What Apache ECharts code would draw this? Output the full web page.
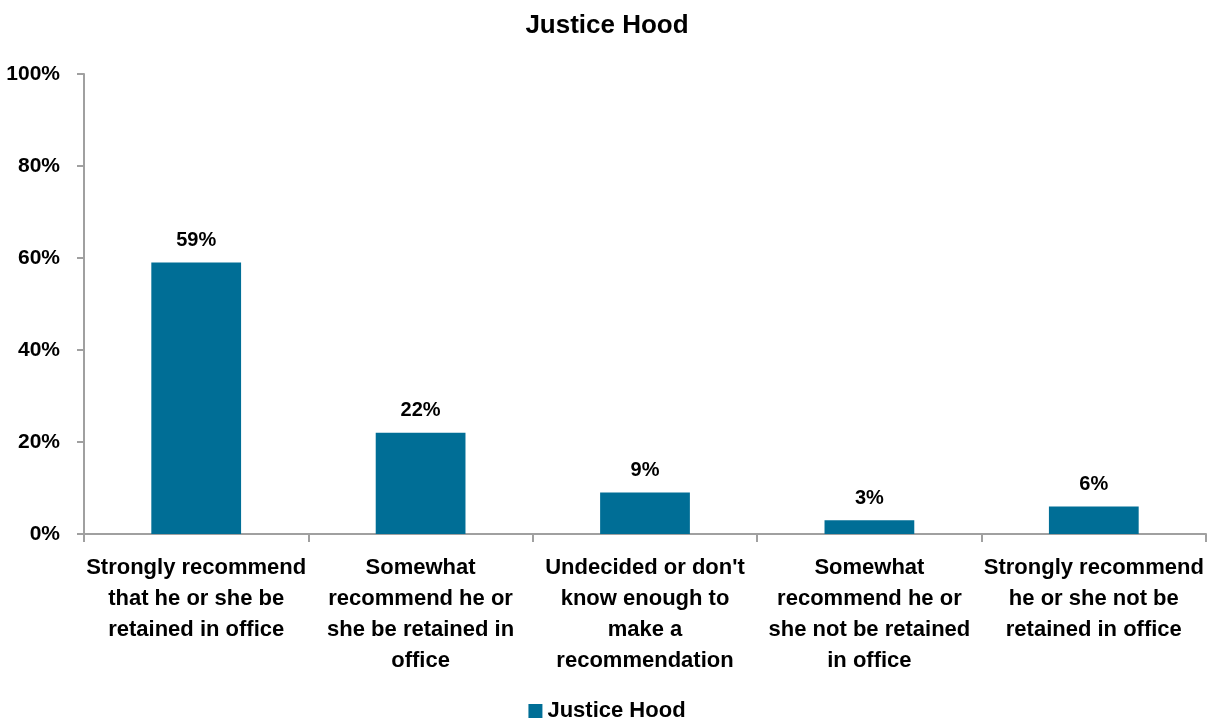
<!DOCTYPE html>
<html>
<head>
<meta charset="utf-8">
<script src="https://cdn.jsdelivr.net/npm/echarts@6/dist/echarts.min.js"></script>
<style>html,body{margin:0;padding:0;background:#fff}#c{width:1214px;height:726px}</style>
</head>
<body>
<div id="c"></div>
<script>
const chartTitle = 'Justice Hood';
const seriesName = 'Justice Hood';
const categories = [
  'Strongly recommend\nthat he or she be\nretained in office',
  'Somewhat\nrecommend he or\nshe be retained in\noffice',
  "Undecided or don't\nknow enough to\nmake a\nrecommendation",
  'Somewhat\nrecommend he or\nshe not be retained\nin office',
  'Strongly recommend\nhe or she not be\nretained in office'
];
const values = [59, 22, 9, 3, 6];
const yTicks = [0, 20, 40, 60, 80, 100];

const chart = echarts.init(document.getElementById('c'));
const font = '"Liberation Sans", Arial, sans-serif';
chart.setOption({
  animation: false,
  title: {
    text: chartTitle, left: 'center', top: 8,
    textStyle: { fontFamily: font, fontSize: 26, fontWeight: 'bold', color: '#000' }
  },
  legend: {
    top: 700, left: 'center', padding: 0, itemWidth: 14, itemHeight: 14, itemGap: 5,
    data: [{ name: seriesName, icon: 'rect' }],
    textStyle: { fontFamily: font, fontSize: 22, fontWeight: 'bold', color: '#000' }
  },
  grid: { left: 84, right: 8, top: 74, bottom: 192, containLabel: false, outerBoundsMode: 'none' },
  xAxis: {
    type: 'category', data: categories,
    axisLine: { lineStyle: { color: '#a0a0a0', width: 2 } },
    axisTick: { show: true, length: 8, lineStyle: { color: '#a0a0a0', width: 2 } },
    axisLabel: { interval: 0, margin: 18, lineHeight: 31, fontFamily: font, fontSize: 22, fontWeight: 'bold', color: '#000' }
  },
  yAxis: {
    type: 'value', min: 0, max: 100, interval: 20,
    axisLine: { show: true, lineStyle: { color: '#a0a0a0', width: 2 } },
    axisTick: { show: true, length: 7, lineStyle: { color: '#a0a0a0', width: 2 } },
    splitLine: { show: false },
    axisLabel: { margin: 24, fontFamily: font, fontSize: 21, fontWeight: 'bold', color: '#000',
      formatter: v => yTicks.includes(v) ? v + '%' : '' }
  },
  series: [{
    name: seriesName, type: 'bar', data: values, barWidth: '40%',
    itemStyle: { color: '#006e96' },
    label: { show: true, position: 'top', distance: 12, formatter: '{c}%', fontFamily: font, fontSize: 20, fontWeight: 'bold', color: '#000' }
  }]
});
</script>
</body>
</html>
